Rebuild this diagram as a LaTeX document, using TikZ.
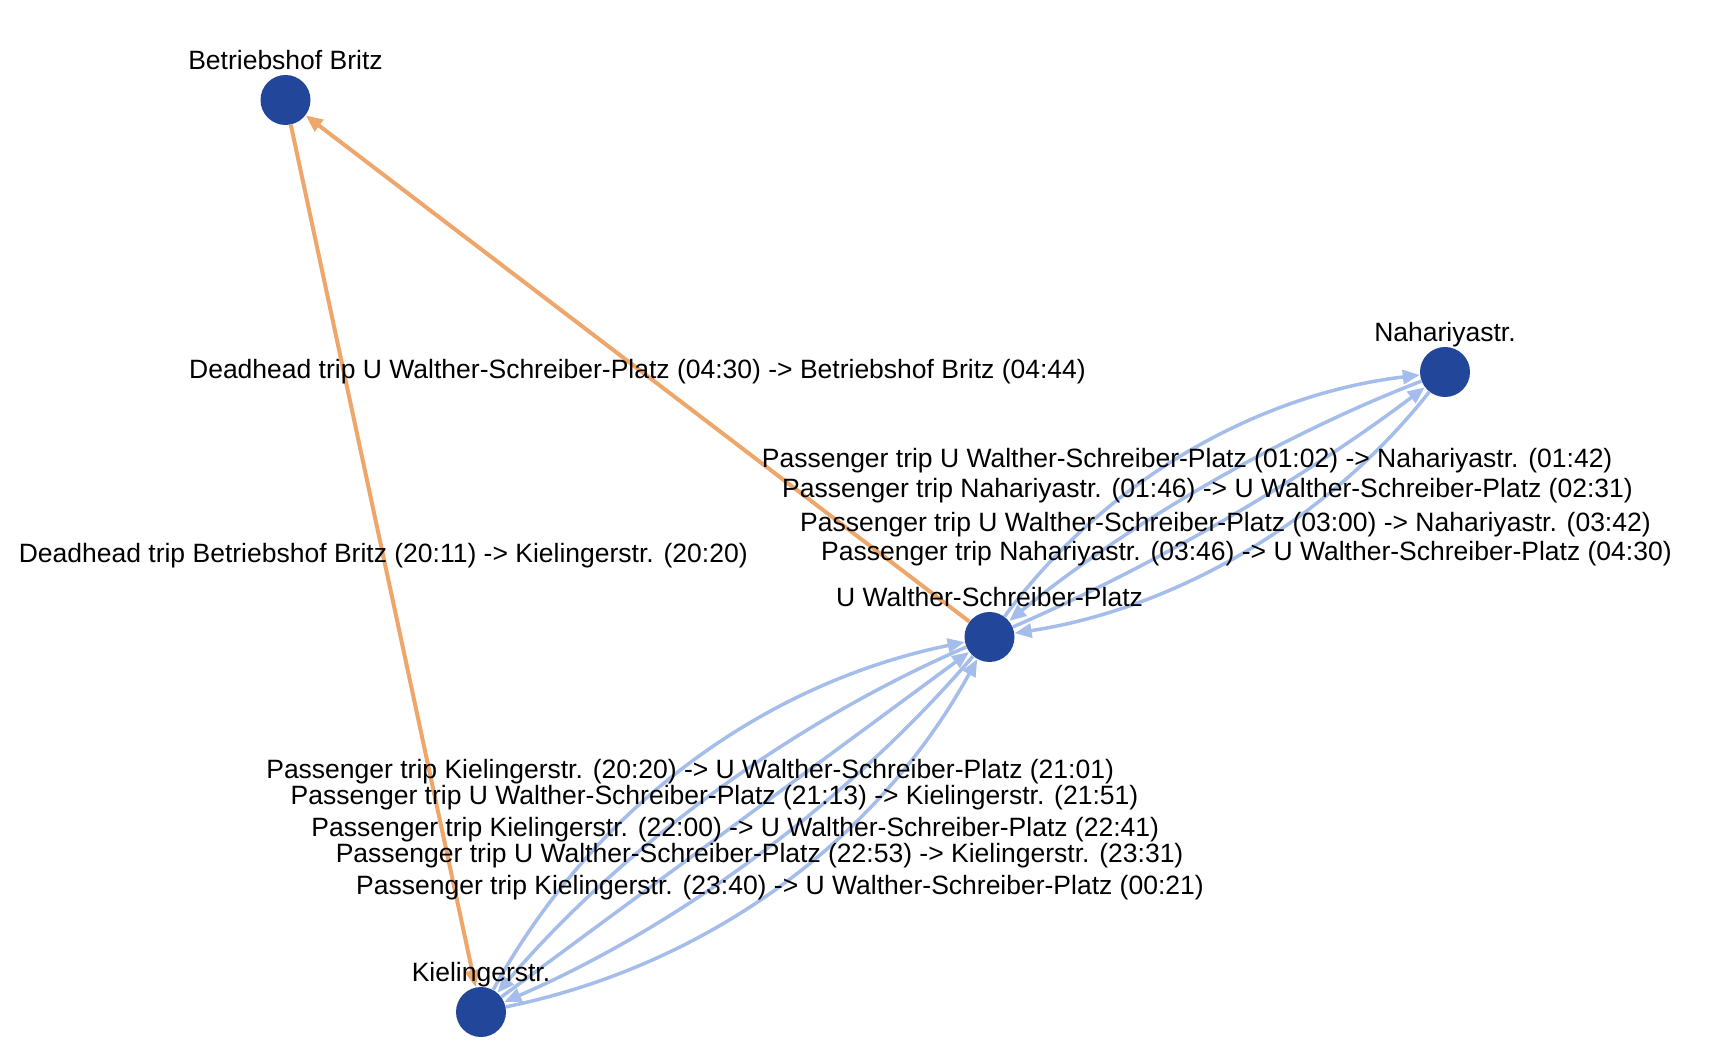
\documentclass[tikz,border=0pt]{standalone}
\usepackage{fontspec}
\setmainfont{Liberation Sans}
\usetikzlibrary{arrows.meta,calc}
\definecolor{nodeblue}{HTML}{22479A}
\definecolor{deadorange}{HTML}{EFA66A}
\definecolor{tripblue}{HTML}{A5BDEA}
\begin{document}
\begin{tikzpicture}[x=0.5pt,y=-0.5pt,
  stn/.style={circle,fill=nodeblue,minimum size=25pt,inner sep=0pt},
  nlabel/.style={anchor=base,inner sep=0pt,font=\fontsize{13.25}{15}\selectfont},
  elabel/.style={anchor=center,inner sep=0pt,font=\fontsize{13.25}{15}\selectfont},
  dead/.style={draw=deadorange,line width=2pt,-{Triangle[length=8.5pt,width=7pt]}},
  trip/.style={draw=tripblue,line width=1.75pt,-{Triangle[length=8.5pt,width=7pt]}}]
\useasboundingbox (0,0) rectangle (1712,1052);
% stations
\node[stn] (B) at (285.5,100) {};
\node[stn] (N) at (1445,372) {};
\node[stn] (U) at (989.5,637) {};
\node[stn] (K) at (481,1012) {};
% deadhead trips
\draw[dead] (U) -- coordinate[midway] (mUB) (B);
\draw[dead] (B) -- coordinate[midway] (mBK) (K);
% U <-> Nahariyastr.
\draw[trip] (U) .. controls (1102.8,482.9) and (1254.8,394.6) .. coordinate[pos=0.5] (n1) (N);
\draw[trip] (N) .. controls (1278.9,436.1) and (1126.9,524.5) .. coordinate[pos=0.5] (n2) (U);
\draw[trip] (U) .. controls (1151.7,567.1) and (1303.7,478.8) .. coordinate[pos=0.5] (n3) (N);
\draw[trip] (N) .. controls (1327.9,520.3) and (1175.9,608.6) .. coordinate[pos=0.5] (n4) (U);
% Kielingerstr. <-> U
\draw[trip] (K) .. controls (592.5,808.7) and (761.9,683.7) .. coordinate[pos=0.5] (k1) (U);
\draw[trip] (U) .. controls (790.7,722.9) and (621.4,847.9) .. coordinate[pos=0.5] (k2) (K);
\draw[trip] (K) -- coordinate[midway] (k3) (U);
\draw[trip] (U) .. controls (848.6,801.1) and (679.3,926.1) .. coordinate[pos=0.5] (k4) (K);
\draw[trip] (K) .. controls (708.1,965.3) and (877.5,840.3) .. coordinate[pos=0.5] (k5) (U);
% edge labels
\node[elabel] (lUB) at ($(mUB)+(0,3.3)$) {Deadhead trip U Walther-Schreiber-Platz (04:30) -> Betriebshof Britz (04:44)};
\node[elabel] (lBK) at (mBK) {Deadhead trip Betriebshof Britz (20:11) -> Kielingerstr. (20:20)};
\node[elabel] (ln1) at ($(n1)+(0,7.6)$) {Passenger trip U Walther-Schreiber-Platz (01:02) -> Nahariyastr. (01:42)};
\node[elabel] (ln2) at ($(n2)+(1.5,5.4)$) {Passenger trip Nahariyastr. (01:46) -> U Walther-Schreiber-Platz (02:31)};
\node[elabel] (ln3) at ($(n3)+(0,5.4)$) {Passenger trip U Walther-Schreiber-Platz (03:00) -> Nahariyastr. (03:42)};
\node[elabel] (ln4) at ($(n4)+(2,2.2)$) {Passenger trip Nahariyastr. (03:46) -> U Walther-Schreiber-Platz (04:30)};
\node[elabel] (lk1) at ($(k1)+(0,7.6)$) {Passenger trip Kielingerstr. (20:20) -> U Walther-Schreiber-Platz (21:01)};
\node[elabel] (lk2) at ($(k2)+(2,3.3)$) {Passenger trip U Walther-Schreiber-Platz (21:13) -> Kielingerstr. (21:51)};
\node[elabel] (lk3) at ($(k3)+(0,5.4)$) {Passenger trip Kielingerstr. (22:00) -> U Walther-Schreiber-Platz (22:41)};
\node[elabel] (lk4) at ($(k4)+(2,1.1)$) {Passenger trip U Walther-Schreiber-Platz (22:53) -> Kielingerstr. (23:31)};
\node[elabel] (lk5) at ($(k5)+(0,2.2)$) {Passenger trip Kielingerstr. (23:40) -> U Walther-Schreiber-Platz (00:21)};
% station labels
\node[nlabel] (tB) at ($(B)+(0,-30.5)$) {Betriebshof Britz};
\node[nlabel] (tN) at ($(N)+(0,-30.5)$) {Nahariyastr.};
\node[nlabel] (tU) at ($(U)+(0,-30.5)$) {U Walther-Schreiber-Platz};
\node[nlabel] (tK) at ($(K)+(0,-30.5)$) {Kielingerstr.};
\end{tikzpicture}
\end{document}
